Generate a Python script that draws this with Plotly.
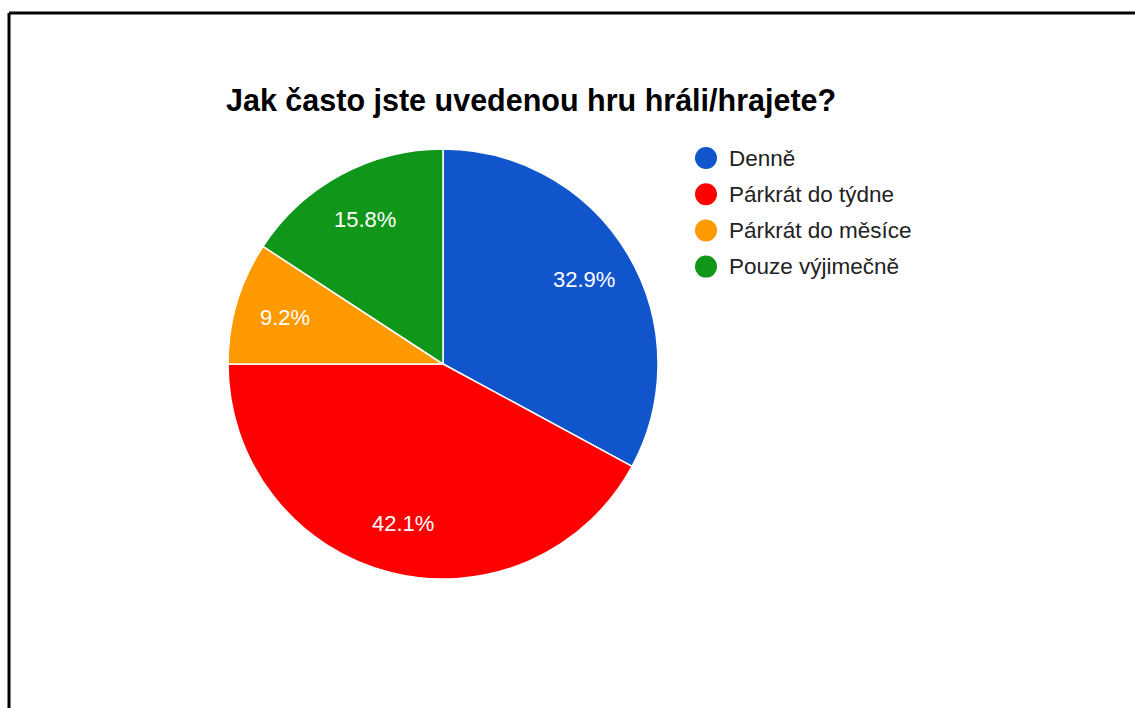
import math
import plotly.graph_objects as go

W, H = 1135, 708

# Survey answers (respondent counts)
categories = ["Denně", "Párkrát do týdne", "Párkrát do měsíce", "Pouze výjimečně"]
counts = [25, 32, 7, 12]
colors = ["#1155cc", "#ff0000", "#ff9900", "#109618"]
title_text = "Jak často jste uvedenou hru hráli/hrajete?"

FONT = "Liberation Sans, Arial, sans-serif"

# Pie geometry in pixels
cx, cy, r = 443, 364, 215

fig = go.Figure(
    go.Pie(
        labels=categories,
        values=counts,
        sort=False,
        direction="clockwise",
        rotation=0,
        marker=dict(colors=colors, line=dict(color="white", width=1.5)),
        textinfo="none",
        showlegend=False,
        hoverinfo="label+percent",
        domain=dict(
            x=[(cx - r) / W, (cx + r) / W],
            y=[(H - cy - r) / H, (H - cy + r) / H],
        ),
    )
)

shapes = [
    # frame lines
    dict(type="line", xref="paper", yref="paper",
         x0=9 / W, x1=1.0, y0=1 - 13 / H, y1=1 - 13 / H,
         line=dict(color="black", width=3)),
    dict(type="line", xref="paper", yref="paper",
         x0=9 / W, x1=9 / W, y0=0, y1=1 - 13 / H,
         line=dict(color="black", width=3)),
]
annotations = [
    dict(text=f"<b>{title_text}</b>", xref="paper", yref="paper",
         x=224 / W, y=1 - 100 / H, xanchor="left", yanchor="middle",
         showarrow=False,
         font=dict(family=FONT, size=30.5, color="#000000")),
]

# Percentage labels placed at the middle angle of each slice
total = sum(counts)
cum = 0
label_r = 0.765 * r
for v in counts:
    frac = v / total
    mid = (cum + frac / 2) * 2 * math.pi
    cum += frac
    px = cx + label_r * math.sin(mid)
    py = cy - label_r * math.cos(mid)
    annotations.append(dict(
        text=f"{frac * 100:.1f}%", xref="paper", yref="paper",
        x=px / W, y=1 - py / H, xanchor="center", yanchor="middle",
        showarrow=False,
        font=dict(family=FONT, size=22, color="white"),
    ))

# Legend: colored dots with labels
leg_x, leg_y0, leg_dy = 706, 158, 36.2
for i, (lab, col) in enumerate(zip(categories, colors)):
    yy = leg_y0 + i * leg_dy
    shapes.append(dict(
        type="circle", xref="paper", yref="paper",
        xsizemode="pixel", ysizemode="pixel",
        xanchor=leg_x / W, yanchor=1 - yy / H,
        x0=-11, x1=11, y0=-11, y1=11,
        fillcolor=col, line=dict(width=0),
    ))
    annotations.append(dict(
        text=lab, xref="paper", yref="paper",
        x=727 / W, y=1 - yy / H, xanchor="left", yanchor="middle",
        showarrow=False,
        font=dict(family=FONT, size=22.5, color="#222222"),
    ))

fig.update_layout(
    width=W, height=H,
    margin=dict(l=0, r=0, t=0, b=0),
    paper_bgcolor="white",
    plot_bgcolor="white",
    shapes=shapes,
    annotations=annotations,
)

fig.write_html("out.html")
